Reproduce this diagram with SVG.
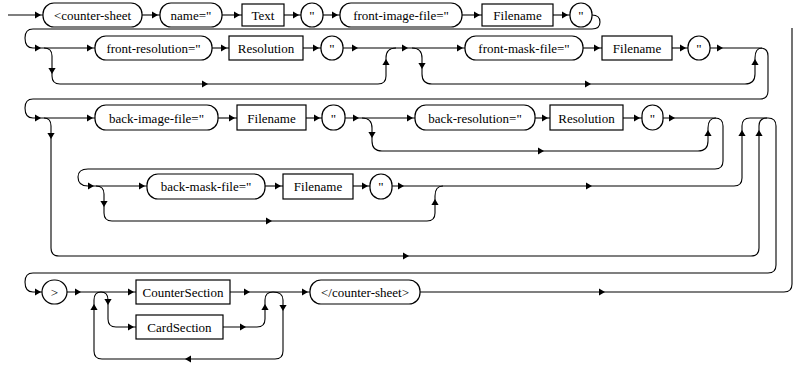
<svg xmlns="http://www.w3.org/2000/svg" xmlns:xlink="http://www.w3.org/1999/xlink" width="794" height="365" viewBox="0 0 794 365" font-family="Liberation Serif, DejaVu Serif, serif">
<style>
.n rect{fill:#fff;stroke:#000;stroke-width:1.2}
.n text{font-family:'Liberation Serif','DejaVu Serif',serif;font-size:13px;text-anchor:middle;fill:#000}
#connectors path{fill:none;stroke:#000;stroke-width:1.1}
#connectors use{fill:#000;stroke:none}
</style>
<defs>
<path id="a" d="M0,0 L-6,-3.6 L-6,3.6 z"/>
</defs>
<rect width="794" height="365" fill="#fff"/>
<g id="connectors">
<path d="M8,15 L43,15"/><use xlink:href="#a" transform="translate(41,15)"/>
<path d="M142,15 L160,15"/><use xlink:href="#a" transform="translate(158,15)"/>
<path d="M222,15 L242,15"/><use xlink:href="#a" transform="translate(240,15)"/>
<path d="M284,15 L301,15"/><use xlink:href="#a" transform="translate(299,15)"/>
<path d="M323,15 L340,15"/><use xlink:href="#a" transform="translate(338,15)"/>
<path d="M462,15 L482,15"/><use xlink:href="#a" transform="translate(480,15)"/>
<path d="M553,15 L570,15"/><use xlink:href="#a" transform="translate(568,15)"/>
<path d="M592,15 Q600,15 600,22 Q600,29 592,29 L33,29 Q25,29 25,38 Q25,48 33,48 L95,48"/>
<use xlink:href="#a" transform="translate(41,48)"/><use xlink:href="#a" transform="translate(93,48)"/>
<path d="M44,48 Q52,48 52,56 L52,76 Q52,84 60,84 L378,84 Q386,84 386,76 L386,58 Q386,48 396,48"/>
<use xlink:href="#a" transform="translate(52,74) rotate(90)"/><use xlink:href="#a" transform="translate(208,84)"/><use xlink:href="#a" transform="translate(386,59) rotate(-90)"/>
<path d="M212,48 L229,48"/><use xlink:href="#a" transform="translate(227,48)"/>
<path d="M303,48 L321,48"/><use xlink:href="#a" transform="translate(319,48)"/>
<path d="M343,48 L465,48"/><use xlink:href="#a" transform="translate(358,48)"/><use xlink:href="#a" transform="translate(408,48)"/><use xlink:href="#a" transform="translate(463,48)"/>
<path d="M412,48 Q422,48 422,58 L422,74 Q422,84 432,84 L745,84 Q755,84 755,74 L755,58 Q755,48 762,48"/>
<use xlink:href="#a" transform="translate(422,69) rotate(90)"/><use xlink:href="#a" transform="translate(591,84)"/><use xlink:href="#a" transform="translate(755,59) rotate(-90)"/>
<path d="M583,48 L602,48"/><use xlink:href="#a" transform="translate(600,48)"/>
<path d="M672,48 L688,48"/><use xlink:href="#a" transform="translate(686,48)"/>
<path d="M710,48 L760,48 Q768,48 768,56 L768,91 Q768,99 760,99 L33,99 Q25,99 25,108 Q25,118 33,118 L95,118"/>
<use xlink:href="#a" transform="translate(723,48)"/><use xlink:href="#a" transform="translate(41,118)"/><use xlink:href="#a" transform="translate(93,118)"/>
<path d="M44,118 Q51,118 51,126 L51,248 Q51,256 59,256 L751,256 Q759,256 759,248 L759,126 Q759,118 767,118"/>
<use xlink:href="#a" transform="translate(51,139) rotate(90)"/><use xlink:href="#a" transform="translate(409,256)"/><use xlink:href="#a" transform="translate(759,130) rotate(-90)"/>
<path d="M218,118 L237,118"/><use xlink:href="#a" transform="translate(235,118)"/>
<path d="M306,118 L322,118"/><use xlink:href="#a" transform="translate(320,118)"/>
<path d="M345,118 L415,118"/><use xlink:href="#a" transform="translate(359,118)"/><use xlink:href="#a" transform="translate(413,118)"/>
<path d="M362,118 Q372,118 372,128 L372,141 Q372,151 382,151 L698,151 Q708,151 708,141 L708,128 Q708,118 716,118"/>
<use xlink:href="#a" transform="translate(372,138) rotate(90)"/><use xlink:href="#a" transform="translate(544,151)"/><use xlink:href="#a" transform="translate(708,130) rotate(-90)"/>
<path d="M535,118 L550,118"/><use xlink:href="#a" transform="translate(548,118)"/>
<path d="M623,118 L642,118"/><use xlink:href="#a" transform="translate(640,118)"/>
<path d="M663,118 L715,118 Q723,118 723,126 L723,161 Q723,169 715,169 L88,169 Q78,169 78,177 Q78,186 88,186 L147,186"/>
<use xlink:href="#a" transform="translate(675,118)"/><use xlink:href="#a" transform="translate(94,186)"/><use xlink:href="#a" transform="translate(145,186)"/>
<path d="M96,186 Q104,186 104,194 L104,213 Q104,221 112,221 L427,221 Q435,221 435,213 L435,196 Q435,186 443,186"/>
<use xlink:href="#a" transform="translate(104,207) rotate(90)"/><use xlink:href="#a" transform="translate(272,221)"/><use xlink:href="#a" transform="translate(435,199) rotate(-90)"/>
<path d="M265,186 L283,186"/><use xlink:href="#a" transform="translate(281,186)"/>
<path d="M353,186 L370,186"/><use xlink:href="#a" transform="translate(368,186)"/>
<path d="M392,186 L734,186 Q742,186 742,178 L742,126 Q742,118 750,118 L768,118 Q776,118 776,126 L776,265 Q776,273 768,273 L33,273 Q25,273 25,282 Q25,292 33,292 L42,292"/>
<use xlink:href="#a" transform="translate(404,186)"/><use xlink:href="#a" transform="translate(592,186)"/><use xlink:href="#a" transform="translate(742,130) rotate(-90)"/><use xlink:href="#a" transform="translate(41,292)"/>
<path d="M67,292 L136,292"/><use xlink:href="#a" transform="translate(81,292)"/><use xlink:href="#a" transform="translate(134,292)"/>
<path d="M101,292 Q108,292 108,300 L108,319 Q108,327 116,327 L136,327"/>
<use xlink:href="#a" transform="translate(108,305) rotate(90)"/><use xlink:href="#a" transform="translate(134,327)"/>
<path d="M223,327 L257,327 Q265,327 265,319 L265,300 Q265,292 273,292 Q283,292 283,300 L283,351 Q283,359 275,359 L102,359 Q94,359 94,351 L94,300 Q94,292 101,292"/>
<use xlink:href="#a" transform="translate(246,327)"/><use xlink:href="#a" transform="translate(265,304) rotate(-90)"/><use xlink:href="#a" transform="translate(283,311) rotate(90)"/><use xlink:href="#a" transform="translate(185,359) rotate(180)"/><use xlink:href="#a" transform="translate(94,304) rotate(-90)"/>
<path d="M230,292 L310,292"/><use xlink:href="#a" transform="translate(250,292)"/><use xlink:href="#a" transform="translate(308,292)"/>
<path d="M420,292 L784,292 Q792,292 792,284 L792,28"/><use xlink:href="#a" transform="translate(605,292)"/>
</g>
<g id="n1" class="n"><rect x="43" y="3" width="99" height="24" rx="11"/><text x="92.5" y="19.5">&lt;counter-sheet</text></g>
<g id="n2" class="n"><rect x="160" y="3" width="62" height="24" rx="11"/><text x="191" y="19.5">name="</text></g>
<g id="n3" class="n"><rect x="242" y="4" width="42" height="22"/><text x="263" y="19.5">Text</text></g>
<g id="n4" class="n"><rect x="301" y="3" width="22" height="24" rx="11"/><text x="312" y="19.5">"</text></g>
<g id="n5" class="n"><rect x="340" y="3" width="122" height="24" rx="11"/><text x="401" y="19.5">front-image-file="</text></g>
<g id="n6" class="n"><rect x="482" y="4" width="71" height="22"/><text x="517.5" y="19.5">Filename</text></g>
<g id="n7" class="n"><rect x="570" y="3" width="22" height="24" rx="11"/><text x="581" y="19.5">"</text></g>
<g id="n8" class="n"><rect x="95" y="36" width="117" height="24" rx="11"/><text x="153.5" y="52.5">front-resolution="</text></g>
<g id="n9" class="n"><rect x="229" y="36" width="74" height="24"/><text x="266" y="52.5">Resolution</text></g>
<g id="n10" class="n"><rect x="321" y="36" width="22" height="24" rx="11"/><text x="332" y="52.5">"</text></g>
<g id="n11" class="n"><rect x="465" y="36" width="118" height="24" rx="11"/><text x="524" y="52.5">front-mask-file="</text></g>
<g id="n12" class="n"><rect x="602" y="36" width="70" height="24"/><text x="637" y="52.5">Filename</text></g>
<g id="n13" class="n"><rect x="688" y="36" width="22" height="24" rx="11"/><text x="699" y="52.5">"</text></g>
<g id="n14" class="n"><rect x="95" y="105" width="123" height="25" rx="11"/><text x="156.5" y="122.5">back-image-file="</text></g>
<g id="n15" class="n"><rect x="237" y="105" width="69" height="25"/><text x="271.5" y="122.5">Filename</text></g>
<g id="n16" class="n"><rect x="322" y="105" width="23" height="25" rx="11"/><text x="333.5" y="122.5">"</text></g>
<g id="n17" class="n"><rect x="415" y="105" width="120" height="25" rx="11"/><text x="475" y="122.5">back-resolution="</text></g>
<g id="n18" class="n"><rect x="550" y="105" width="73" height="25"/><text x="586.5" y="122.5">Resolution</text></g>
<g id="n19" class="n"><rect x="642" y="105" width="21" height="25" rx="10.5"/><text x="652.5" y="122.5">"</text></g>
<g id="n20" class="n"><rect x="147" y="174" width="118" height="25" rx="11"/><text x="206" y="190.5">back-mask-file="</text></g>
<g id="n21" class="n"><rect x="283" y="174" width="70" height="25"/><text x="318" y="190.5">Filename</text></g>
<g id="n22" class="n"><rect x="370" y="174" width="22" height="25" rx="11"/><text x="381" y="190.5">"</text></g>
<g id="n23" class="n"><rect x="42" y="280" width="25" height="24" rx="12"/><text x="54.5" y="296.5">&gt;</text></g>
<g id="n24" class="n"><rect x="136" y="280" width="94" height="24"/><text x="183" y="296.5">CounterSection</text></g>
<g id="n25" class="n"><rect x="136" y="315" width="87" height="24"/><text x="179.5" y="331.5">CardSection</text></g>
<g id="n26" class="n"><rect x="310" y="280" width="110" height="24" rx="11"/><text x="365" y="296.5">&lt;/counter-sheet&gt;</text></g>
</svg>
